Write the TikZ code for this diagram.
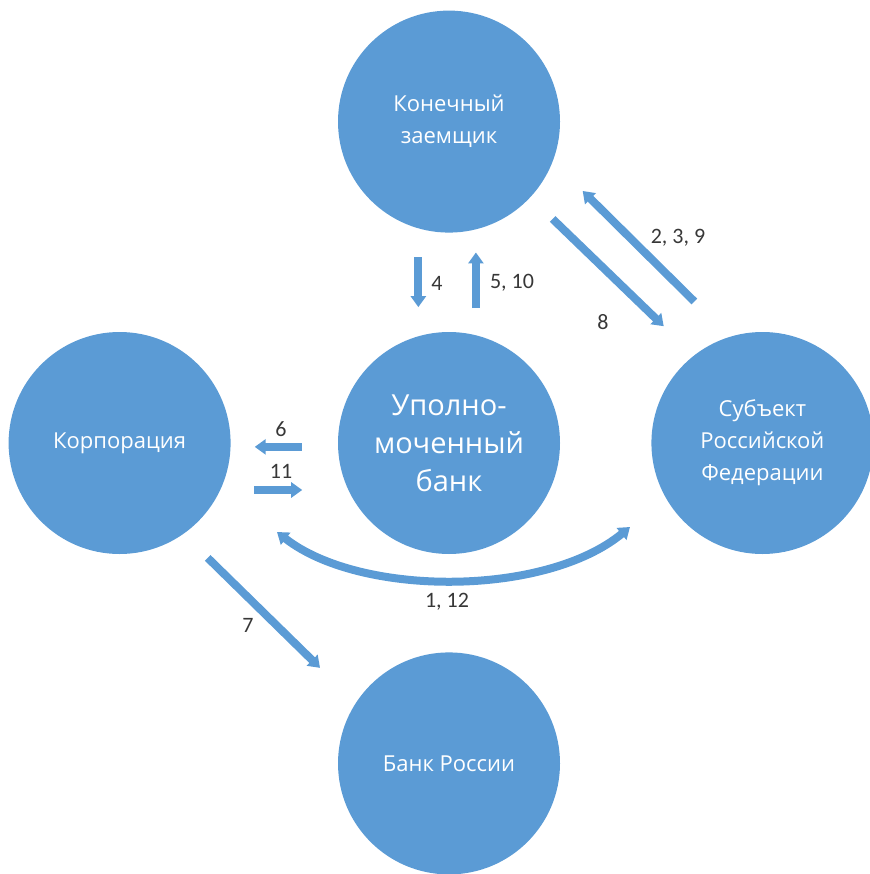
\documentclass[tikz,border=0pt]{standalone}
\usepackage{fontspec}
\setmainfont{Carlito}
\newfontfamily\krugfont{Open Sans}
\usetikzlibrary{arrows.meta,calc,positioning}
\definecolor{krugblue}{RGB}{91,155,213}
\definecolor{tekst}{RGB}{55,55,55}
\tikzset{
    >={Triangle[width=15pt,length=11pt]},
    krug/.style={
           circle,
           fill=krugblue,
           minimum size=222pt,
           inner sep=0pt,
           text=white,
           align=center,
           font=\krugfont\fontsize{22}{32}\selectfont},
    strelka/.style={
           ->,
           draw=krugblue,
           line width=8pt},
    nomer/.style={
           text=tekst,
           font=\fontsize{22}{25}\selectfont}
}
\begin{document}
\begin{tikzpicture}[x=1pt, y=-1pt]
        \useasboundingbox (0,0) rectangle (869,874);

        \node[krug, font=\krugfont\fontsize{29}{38}\selectfont] (bank) at (449,443) {Уполно-\\моченный\\банк};
        \node[krug, above=99pt of bank] (zaem) {Конечный\\заемщик};
        \node[krug, left=107pt of bank] (korp) {Корпорация};
        \node[krug, right=91pt of bank] (subj) {Субъект\\Российской\\Федерации};
        \node[krug, below=98pt of bank] (cbr) {Банк России};

        \coordinate (dugaL) at (277,532);
        \coordinate (dugaR) at (630,527);

        \draw[strelka, shorten <=29pt, shorten >=29pt] (zaem.254) -- (bank.106);
        \draw[strelka, shorten <=27pt, shorten >=23pt] (bank.76) -- (zaem.284);

        \draw[strelka, shorten <=31pt, shorten >=42pt] (zaem.-43.5) -- (subj.128);
        \draw[strelka, shorten <=50pt, shorten >=42pt] (subj.107.6) -- (zaem.-21.5);

        \draw[strelka, shorten <=36pt, shorten >=24pt] (bank.182) -- (korp.-2);
        \draw[strelka, shorten <=34pt, shorten >=46pt] (korp.-25) -- (bank.205);

        \draw[strelka, <->] (dugaL) .. controls (360,597) and (545,597) .. (dugaR);

        \draw[strelka, shorten <=34pt, shorten >=50pt] (korp.-55.5) -- (cbr.147);

        \node[nomer] (n4) at (437,283) {4};
        \node[nomer] (n5) at (512,283) {5, 10};
        \node[nomer] (n2) at (678,238) {2, 3, 9};
        \node[nomer] (n8) at (603,322) {8};
        \node[nomer] (n6) at (281,429) {6};
        \node[nomer] (n11) at (281,471) {11};
        \node[nomer] (n1) at (447,602) {1, 12};
        \node[nomer] (n7) at (248,625) {7};
    \end{tikzpicture}
\end{document}
